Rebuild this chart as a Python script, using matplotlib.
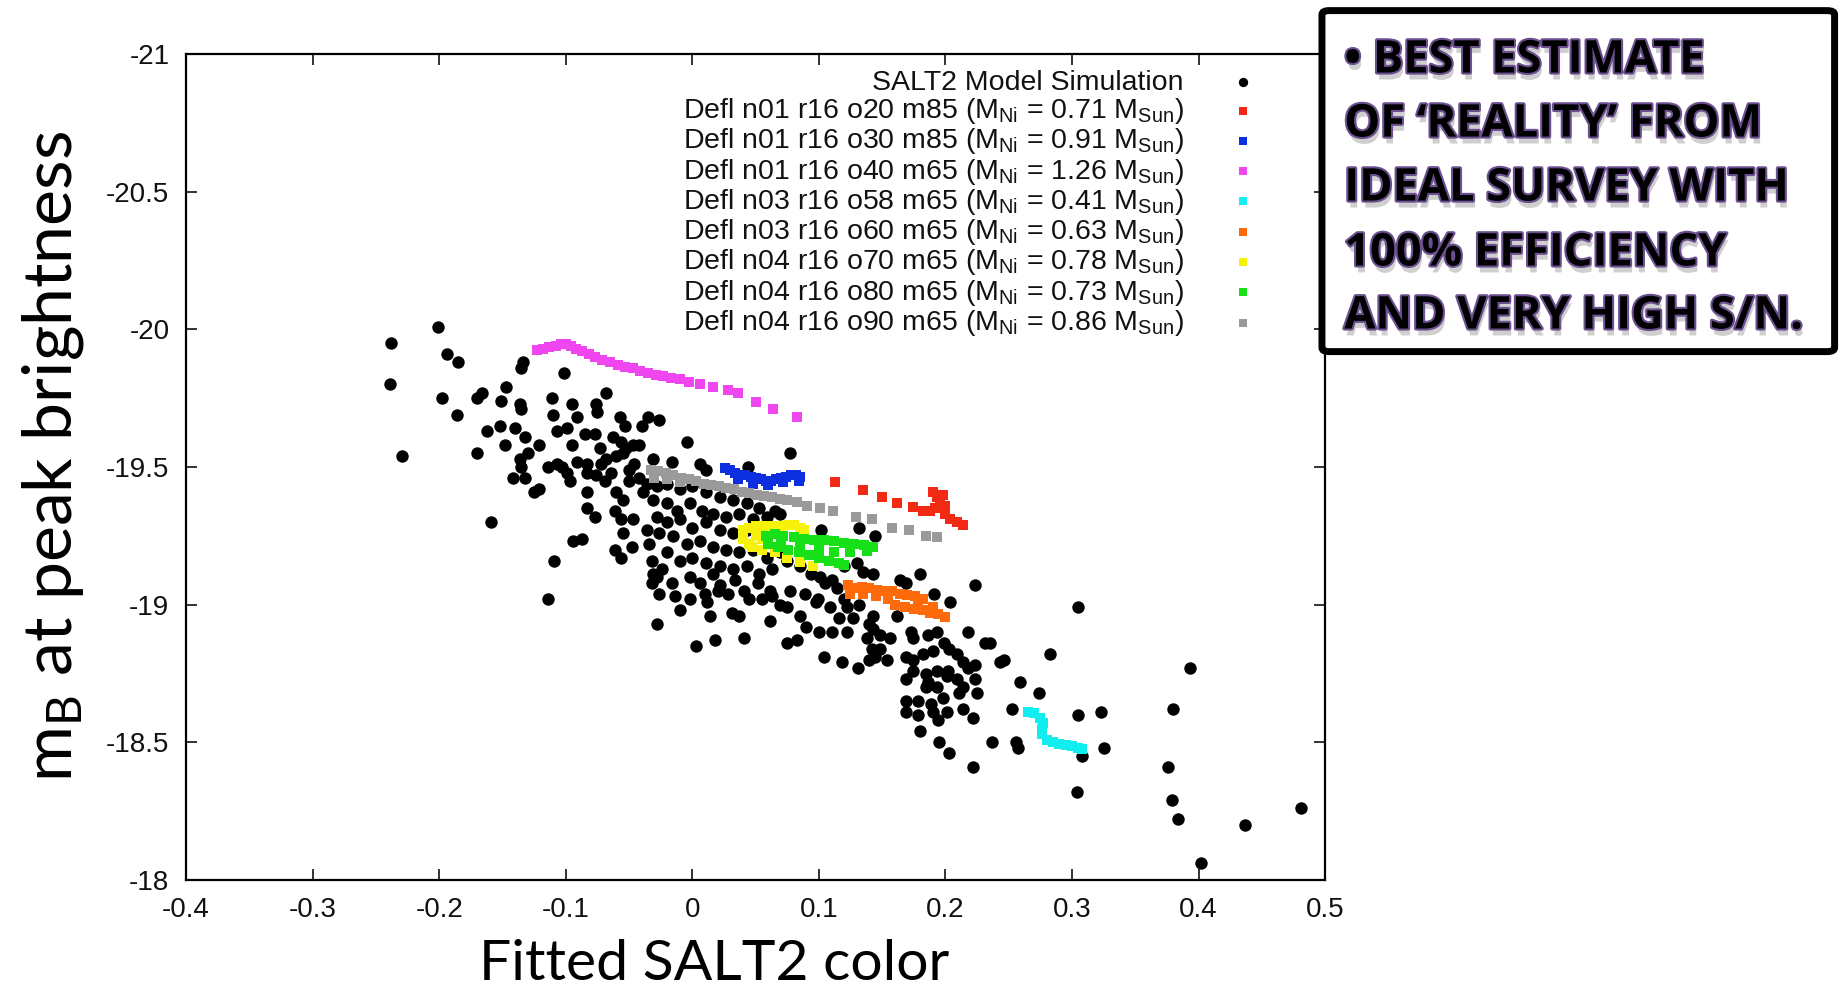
import matplotlib
matplotlib.use("Agg")
import matplotlib.pyplot as plt
import matplotlib.patheffects as pe
from matplotlib.patches import FancyBboxPatch

plt.rcParams["font.family"] = ["Liberation Sans", "DejaVu Sans"]
plt.rcParams["mathtext.fontset"] = "custom"
plt.rcParams["mathtext.rm"] = "Liberation Sans"
plt.rcParams["mathtext.it"] = "Liberation Sans:italic"

# ---- SALT2 model simulation (black dots) ----
salt2_color = [
    0.305, 0.283, 0.246, 0.259, 0.274, 0.253, 0.305, 0.323, 0.256, 0.257,
    0.308, 0.325, 0.304, 0.393, 0.380, 0.376, 0.379, 0.384, 0.437, 0.481,
    0.402, 0.223, 0.191, 0.204, 0.218, 0.231, 0.235, 0.243, 0.104, 0.118,
    0.131, 0.144, 0.154, 0.090, 0.100, 0.110, 0.140, 0.138, 0.148, 0.156,
    0.142, 0.173, 0.174, 0.186, 0.193, 0.182, 0.190, 0.199, 0.203, 0.209,
    0.214, 0.218, 0.223, 0.174, 0.174, 0.185, 0.193, 0.202, 0.169, 0.186,
    0.209, 0.214, 0.211, 0.225, 0.178, 0.189, 0.198, 0.169, 0.178, 0.194,
    0.214, 0.222, 0.180, 0.195, 0.203, 0.237, 0.222, 0.098, 0.109, 0.122,
    0.132, 0.085, 0.162,
    -0.004, 0.077, -0.031, -0.016, 0.006, 0.044, -0.042, -0.036, -0.039, -0.034,
    -0.036, -0.031, -0.032, -0.016, -0.002, 0.006, 0.012, 0.020, 0.028, 0.031,
    0.045, 0.055, 0.063, 0.069, 0.075, -0.028, 0.003, 0.075, 0.065, 0.102,
    0.132, 0.144, 0.101, 0.110, 0.120, 0.130, 0.135, 0.143, 0.114, 0.180,
    0.164, 0.169, 0.143, 0.143, 0.148, 0.116, 0.127, 0.122, 0.140, 0.169,
    0.201, 0.185, 0.193, 0.223, 0.169, 0.190, 0.201,
    -0.238, -0.239, -0.201, -0.194, -0.185, -0.198, -0.186, -0.229, -0.170, -0.166,
    -0.147, -0.135, -0.134, -0.151, -0.136, -0.135, -0.101, -0.162, -0.152, -0.140,
    -0.132, -0.170, -0.148, -0.130, -0.121, -0.111, -0.110, -0.107, -0.099, -0.095,
    -0.091, -0.076, -0.075, -0.068, -0.085, -0.077, -0.057, -0.053, -0.040, -0.035,
    -0.026, -0.095, -0.073, -0.063, -0.056, -0.047, -0.136, -0.135, -0.142, -0.132,
    -0.125, -0.114, -0.107, -0.103, -0.099, -0.091, -0.097, -0.083, -0.072, -0.083,
    -0.076, -0.069, -0.083, -0.083, -0.077, -0.060, -0.052, -0.060, -0.055, -0.061,
    -0.047, -0.055, -0.050, -0.159, -0.094, -0.087, -0.109, -0.061, -0.056, -0.048,
    -0.114, -0.032, -0.028,
    -0.068, -0.055, -0.050, -0.046, 0.011, -0.121, -0.064, -0.042, -0.056, -0.024,
    0.016,
    -0.028, -0.020, -0.010, 0.000, 0.011, 0.022, 0.032, 0.043, 0.053,
    -0.031, -0.020, -0.012, -0.002, 0.008, 0.016, 0.027, 0.037, 0.048, 0.059, 0.069,
    -0.028, -0.020, -0.010, 0.000, 0.011, 0.022, 0.032, 0.043,
    -0.026, -0.015, -0.004, 0.006, 0.016, 0.027, 0.037, 0.048, 0.059, 0.069,
    -0.020, -0.010, 0.000, 0.011, 0.022, 0.032, 0.043, 0.053, 0.063,
    0.075, 0.085, 0.094, 0.105, 0.077, 0.089, 0.099, 0.120, 0.052, 0.061,
    0.041, 0.034, 0.022, 0.010, -0.002, -0.014, -0.026, -0.010, 0.014, 0.037,
    0.061, 0.083, 0.041, 0.018,
]
salt2_mb = [
    -18.99, -18.82, -18.80, -18.72, -18.68, -18.62, -18.60, -18.61, -18.50, -18.48,
    -18.45, -18.48, -18.32, -18.77, -18.62, -18.41, -18.29, -18.22, -18.20, -18.26,
    -18.06, -19.07, -19.04, -19.01, -18.90, -18.86, -18.86, -18.79, -18.81, -18.79,
    -18.77, -18.81, -18.80, -18.92, -18.90, -18.90, -18.93, -18.88, -18.89, -18.88,
    -18.84, -18.90, -18.88, -18.89, -18.90, -18.82, -18.83, -18.86, -18.84, -18.82,
    -18.79, -18.77, -18.78, -18.80, -18.76, -18.75, -18.76, -18.76, -18.73, -18.72,
    -18.73, -18.70, -18.68, -18.68, -18.65, -18.64, -18.66, -18.61, -18.60, -18.58,
    -18.62, -18.59, -18.54, -18.50, -18.46, -18.50, -18.41, -19.01, -18.99, -18.99,
    -19.00, -18.96, -18.96,
    -19.59, -19.55, -19.53, -19.52, -19.51, -19.50, -19.58, -19.44, -19.41, -19.22,
    -19.27, -19.11, -19.08, -19.08, -19.10, -19.08, -19.01, -19.05, -19.04, -18.97,
    -19.02, -19.02, -19.03, -19.00, -18.99, -18.93, -18.85, -18.86, -19.34, -19.27,
    -19.28, -19.25, -19.10, -19.09, -19.14, -19.15, -19.12, -19.11, -19.06, -19.11,
    -19.09, -19.08, -18.96, -18.91, -18.84, -18.95, -18.95, -18.90, -18.80, -18.81,
    -18.74, -18.70, -18.70, -18.73, -18.65, -18.61, -18.61,
    -19.95, -19.80, -20.01, -19.91, -19.88, -19.75, -19.69, -19.54, -19.75, -19.77,
    -19.79, -19.86, -19.88, -19.74, -19.73, -19.71, -19.84, -19.63, -19.65, -19.64,
    -19.61, -19.55, -19.58, -19.55, -19.58, -19.75, -19.69, -19.63, -19.64, -19.73,
    -19.68, -19.73, -19.70, -19.77, -19.62, -19.62, -19.68, -19.65, -19.65, -19.68,
    -19.67, -19.58, -19.57, -19.61, -19.59, -19.58, -19.53, -19.50, -19.46, -19.46,
    -19.41, -19.50, -19.51, -19.50, -19.48, -19.52, -19.45, -19.51, -19.51, -19.48,
    -19.47, -19.45, -19.41, -19.35, -19.32, -19.54, -19.57, -19.41, -19.38, -19.34,
    -19.31, -19.26, -19.45, -19.30, -19.23, -19.24, -19.16, -19.20, -19.17, -19.21,
    -19.02, -19.16, -19.10,
    -19.53, -19.55, -19.49, -19.51, -19.49, -19.42, -19.48, -19.46, -19.31, -19.13,
    -19.11,
    -19.43, -19.44, -19.42, -19.43, -19.41, -19.39, -19.38, -19.37, -19.35,
    -19.38, -19.37, -19.34, -19.37, -19.34, -19.33, -19.32, -19.33, -19.31, -19.32, -19.33,
    -19.32, -19.30, -19.31, -19.28, -19.30, -19.27, -19.26, -19.27,
    -19.26, -19.25, -19.22, -19.23, -19.21, -19.20, -19.19, -19.20, -19.17, -19.19,
    -19.19, -19.16, -19.17, -19.15, -19.14, -19.13, -19.14, -19.11, -19.13,
    -19.16, -19.14, -19.11, -19.08, -19.05, -19.04, -19.02, -19.02, -19.08, -19.05,
    -19.05, -19.09, -19.07, -19.04, -19.02, -19.03, -19.04, -18.98, -18.96, -18.96,
    -18.94, -18.87, -18.88, -18.87,
]

# ---- deflagration models (coloured squares) ----
o20_color = [0.113, 0.135, 0.150, 0.162, 0.174, 0.182, 0.188, 0.190, 0.193, 0.196,
             0.192, 0.200, 0.204, 0.209, 0.214, 0.198, 0.200]
o20_mb = [-19.445, -19.416, -19.39, -19.37, -19.355, -19.34, -19.34, -19.41, -19.39,
          -19.37, -19.35, -19.33, -19.31, -19.30, -19.29, -19.40, -19.36]

o30_color = [0.026, 0.030, 0.034, 0.038, 0.042, 0.046, 0.050, 0.054, 0.058, 0.062,
             0.066, 0.070, 0.074, 0.078, 0.082, 0.085, 0.036, 0.048, 0.060, 0.072, 0.084]
o30_mb = [-19.495, -19.49, -19.48, -19.47, -19.47, -19.465, -19.46, -19.455, -19.45,
          -19.45, -19.455, -19.46, -19.465, -19.47, -19.47, -19.465, -19.455, -19.44,
          -19.435, -19.445, -19.45]

o40_color = [-0.123, -0.118, -0.113, -0.108, -0.104, -0.100, -0.096, -0.092, -0.087,
             -0.082, -0.077, -0.071, -0.065, -0.059, -0.053, -0.047, -0.041, -0.035,
             -0.029, -0.023, -0.017, -0.010, -0.003, 0.006, 0.016, 0.028, 0.036, 0.050,
             0.064, 0.083]
o40_mb = [-19.925, -19.93, -19.935, -19.94, -19.945, -19.945, -19.94, -19.93, -19.92,
          -19.91, -19.90, -19.89, -19.88, -19.87, -19.865, -19.86, -19.85, -19.84,
          -19.835, -19.83, -19.825, -19.82, -19.81, -19.80, -19.79, -19.78, -19.77,
          -19.735, -19.71, -19.68]

o58_color = [0.265, 0.270, 0.275, 0.277, 0.276, 0.276, 0.280, 0.285, 0.290, 0.295,
             0.300, 0.305, 0.308]
o58_mb = [-18.61, -18.605, -18.59, -18.57, -18.55, -18.53, -18.51, -18.50, -18.495,
          -18.49, -18.485, -18.48, -18.475]

o60_color = [0.123, 0.128, 0.134, 0.140, 0.146, 0.152, 0.158, 0.164, 0.170, 0.176,
             0.182, 0.125, 0.135, 0.145, 0.155, 0.160, 0.168, 0.175, 0.182, 0.188,
             0.194, 0.200, 0.178, 0.190]
o60_mb = [-19.07, -19.06, -19.065, -19.06, -19.055, -19.05, -19.05, -19.04, -19.035,
          -19.03, -19.02, -19.04, -19.04, -19.03, -19.02, -19.00, -18.99, -18.985,
          -18.98, -18.97, -18.965, -18.955, -19.00, -18.99]

o70_color = [0.040, 0.040, 0.045, 0.045, 0.050, 0.050, 0.055, 0.055, 0.060, 0.060,
             0.065, 0.070, 0.075, 0.080, 0.085, 0.088, 0.047, 0.055, 0.065, 0.075,
             0.085, 0.095]
o70_mb = [-19.27, -19.24, -19.28, -19.22, -19.285, -19.25, -19.285, -19.24, -19.285,
          -19.26, -19.285, -19.285, -19.29, -19.29, -19.28, -19.27, -19.21, -19.20,
          -19.19, -19.17, -19.155, -19.14]

o80_color = [0.058, 0.065, 0.072, 0.080, 0.088, 0.096, 0.104, 0.112, 0.120, 0.128,
             0.136, 0.143, 0.060, 0.068, 0.076, 0.084, 0.092, 0.100, 0.108, 0.116,
             0.120, 0.070, 0.085, 0.100, 0.112, 0.125, 0.138]
o80_mb = [-19.25, -19.255, -19.25, -19.245, -19.24, -19.235, -19.235, -19.23, -19.225,
          -19.22, -19.215, -19.21, -19.22, -19.21, -19.20, -19.19, -19.18, -19.17,
          -19.16, -19.15, -19.145, -19.23, -19.215, -19.20, -19.19, -19.19, -19.195]

o90_color = [-0.033, -0.027, -0.021, -0.015, -0.009, -0.003, 0.003, 0.009, 0.015,
             0.021, 0.027, 0.033, 0.039, 0.045, 0.051, 0.057, 0.063, 0.069, 0.075,
             -0.030, -0.020, -0.010, 0.083, 0.091, 0.101, 0.111, 0.129, 0.142, 0.158,
             0.171, 0.185, 0.193]
o90_mb = [-19.49, -19.485, -19.48, -19.47, -19.46, -19.455, -19.45, -19.44, -19.435,
          -19.43, -19.425, -19.42, -19.41, -19.405, -19.40, -19.395, -19.39, -19.385,
          -19.38, -19.46, -19.455, -19.445, -19.373, -19.36, -19.35, -19.34, -19.32,
          -19.31, -19.28, -19.27, -19.25, -19.245]

model_labels = [
    r"Defl n01 r16 o20 m85 (M$_{\rm Ni}$ = 0.71 M$_{\rm Sun}$)",
    r"Defl n01 r16 o30 m85 (M$_{\rm Ni}$ = 0.91 M$_{\rm Sun}$)",
    r"Defl n01 r16 o40 m65 (M$_{\rm Ni}$ = 1.26 M$_{\rm Sun}$)",
    r"Defl n03 r16 o58 m65 (M$_{\rm Ni}$ = 0.41 M$_{\rm Sun}$)",
    r"Defl n03 r16 o60 m65 (M$_{\rm Ni}$ = 0.63 M$_{\rm Sun}$)",
    r"Defl n04 r16 o70 m65 (M$_{\rm Ni}$ = 0.78 M$_{\rm Sun}$)",
    r"Defl n04 r16 o80 m65 (M$_{\rm Ni}$ = 0.73 M$_{\rm Sun}$)",
    r"Defl n04 r16 o90 m65 (M$_{\rm Ni}$ = 0.86 M$_{\rm Sun}$)",
]
model_colors = ["#f22a14", "#0d2fe0", "#f046f0", "#10eef0",
                "#ff6a0a", "#f6f20c", "#18e018", "#9a9a9a"]

x_ticks = [-0.4, -0.3, -0.2, -0.1, 0.0, 0.1, 0.2, 0.3, 0.4, 0.5]
x_tick_labels = ["-0.4", "-0.3", "-0.2", "-0.1", "0", "0.1", "0.2", "0.3", "0.4", "0.5"]
y_ticks = [-21, -20.5, -20, -19.5, -19, -18.5, -18]
y_tick_labels = ["-21", "-20.5", "-20", "-19.5", "-19", "-18.5", "-18"]

box_lines = ["\u2022 BEST ESTIMATE", "OF \u2018REALITY\u2019 FROM",
             "IDEAL SURVEY WITH", "100% EFFICIENCY", "AND VERY HIGH S/N."]


def draw_scatter(ax):
    ax.scatter(salt2_color, salt2_mb, s=80, c="black", marker="o",
               linewidths=0, label="SALT2 Model Simulation", zorder=2)
    models = [
        (o20_color, o20_mb), (o30_color, o30_mb), (o40_color, o40_mb),
        (o58_color, o58_mb), (o60_color, o60_mb), (o70_color, o70_mb),
        (o80_color, o80_mb), (o90_color, o90_mb),
    ]
    for (xs, ys), lab, col in zip(models, model_labels, model_colors):
        ax.scatter(xs, ys, s=54, c=col, marker="s", linewidths=0,
                   label=lab, zorder=3)


def style_axes(ax):
    ax.set_xlim(-0.4, 0.5)
    ax.set_ylim(-18, -21)
    ax.set_xticks(x_ticks)
    ax.set_xticklabels(x_tick_labels)
    ax.set_yticks(y_ticks)
    ax.set_yticklabels(y_tick_labels)
    ax.tick_params(direction="in", length=8, width=1.2, top=True, right=True,
                   labelsize=20, colors="#111111")
    ax.tick_params(axis="x", pad=12)
    ax.tick_params(axis="y", pad=12)
    for sp in ax.spines.values():
        sp.set_linewidth(1.6)

    ax.text(-0.117, 0.513, r"m$_\mathregular{B}$ at peak brightness",
            transform=ax.transAxes, rotation=90, ha="center", va="center",
            fontsize=49, family=["Lato", "DejaVu Sans"])
    ax.text(0.464, -0.102, "Fitted SALT2 color", transform=ax.transAxes,
            ha="center", va="center", fontsize=41, family=["Lato", "DejaVu Sans"])

    leg = ax.legend(loc="upper right", bbox_to_anchor=(0.941, 0.981),
                    frameon=False, markerfirst=False, scatterpoints=1,
                    markerscale=0.75, fontsize=20.5, handlelength=1.02,
                    handletextpad=1.58, labelspacing=0.01, borderpad=0,
                    borderaxespad=0)
    for t in leg.get_texts():
        t.set_color("#111111")


def draw_note(fig):
    box = FancyBboxPatch((0.7169, 0.6452), 0.278, 0.3441,
                         boxstyle="round,pad=0,rounding_size=0.004",
                         transform=fig.transFigure, facecolor="white",
                         edgecolor="black", linewidth=5, zorder=5)
    fig.add_artist(box)
    baselines = [0.9268, 0.8622, 0.7976, 0.7321, 0.6685]
    effects = [pe.SimplePatchShadow(offset=(1.5, -5), shadow_rgbFace="#777777", alpha=0.35),
               pe.Stroke(linewidth=3, foreground="#6b4f8f"), pe.Normal()]
    for line, yb in zip(box_lines, baselines):
        fig.text(0.729, yb, line, ha="left", va="baseline", fontsize=32.5,
                 fontweight="bold", family=["Open Sans", "DejaVu Sans"],
                 color="black", path_effects=effects, zorder=6)


def main():
    fig = plt.figure(figsize=(18.44, 9.91), dpi=100)
    ax = fig.add_axes([0.1009, 0.1120, 0.6177, 0.8335])
    draw_scatter(ax)
    style_axes(ax)
    draw_note(fig)
    fig.savefig("out.png", dpi=100)
    plt.close(fig)


if __name__ == "__main__":
    main()
